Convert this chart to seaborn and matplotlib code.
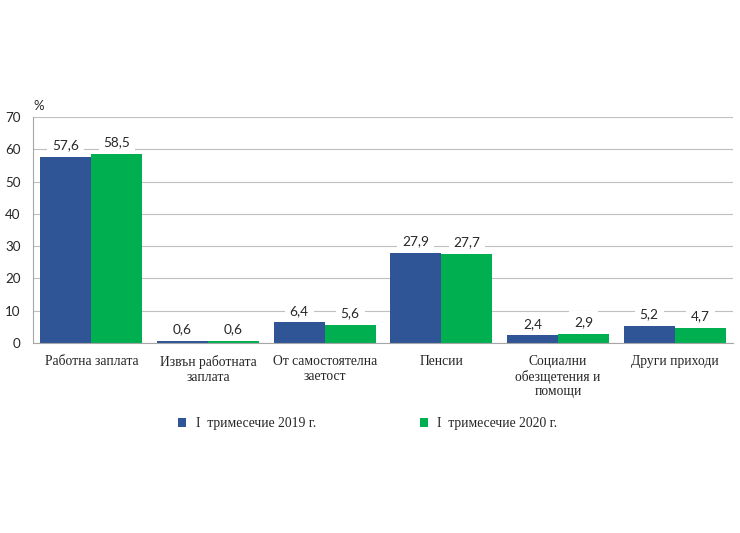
import pandas as pd
import matplotlib
matplotlib.use("Agg")
import matplotlib.pyplot as plt
import seaborn as sns

# Data
categories = ["Работна заплата", "Извън работната\nзаплата", "От самостоятелна\nзаетост",
              "Пенсии", "Социални\nобезщетения и\nпомощи", "Други приходи"]
series = ["I  тримесечие 2019 г.", "I  тримесечие 2020 г."]
values_2019 = [57.6, 0.6, 6.4, 27.9, 2.4, 5.2]
values_2020 = [58.5, 0.6, 5.6, 27.7, 2.9, 4.7]
colors = ["#2F5597", "#00B050"]

df = pd.DataFrame({
    "category": categories * 2,
    "period": [series[0]] * len(categories) + [series[1]] * len(categories),
    "value": values_2019 + values_2020,
})

sns.set_style("white")
plt.rcParams["font.family"] = ["Liberation Serif", "DejaVu Serif"]
num_font = ["Lato", "DejaVu Sans"]  # numbers look like Calibri in the original

fig = plt.figure(figsize=(7.4, 5.33), dpi=100)
ax = fig.add_axes([0.0446, 0.3565, 0.946, 0.424])

sns.barplot(data=df, x="category", y="value", hue="period", palette=colors,
            width=0.875, saturation=1, linewidth=0, ax=ax, legend=True)

ax.set_ylim(0, 70)
ax.set_yticks(range(0, 71, 10))
ax.set_xlim(-0.5, len(categories) - 0.5)
ax.yaxis.grid(True, color="#BFBFBF", linewidth=0.8)
ax.set_axisbelow(True)
ax.set_xlabel("")
ax.set_ylabel("")

for side in ["top", "right"]:
    ax.spines[side].set_visible(False)
ax.spines["left"].set_color("#A6A6A6")
ax.spines["bottom"].set_color("#A6A6A6")

# ticks on y outside, x ticks between categories
ax.tick_params(axis="y", length=4, color="#A6A6A6", pad=5)
for t in ax.get_yticklabels():
    t.set_fontfamily(num_font)
    t.set_fontsize(9.6)
ax.set_xticks(range(len(categories)))
ax.set_xticklabels(categories, fontsize=9.8, linespacing=1.12, va="top")
ax.tick_params(axis="x", length=0, pad=9)
ax.set_xticks([i - 0.5 for i in range(len(categories) + 1)], minor=True)
ax.tick_params(axis="x", which="minor", length=4, color="#A6A6A6")

for cont in ax.containers:
    labels = [f"{v:.1f}".replace(".", ",") for v in cont.datavalues]
    ax.bar_label(cont, labels=labels, padding=4, fontsize=9.8, family=num_font,
                 bbox=dict(facecolor="white", edgecolor="none", pad=3.5))

ax.text(0.0, 1.02, "%", transform=ax.transAxes, fontsize=9.5, family=num_font,
        ha="left", va="bottom")

handles, labs = ax.get_legend_handles_labels()
ax.get_legend().remove()
fig.legend(handles, labs, loc="center", bbox_to_anchor=(0.497, 0.205), ncol=2,
           frameon=False, fontsize=9.8, handlelength=0.6, handleheight=0.6,
           columnspacing=7.6, handletextpad=0.7)

fig.savefig("out.png", dpi=100)
